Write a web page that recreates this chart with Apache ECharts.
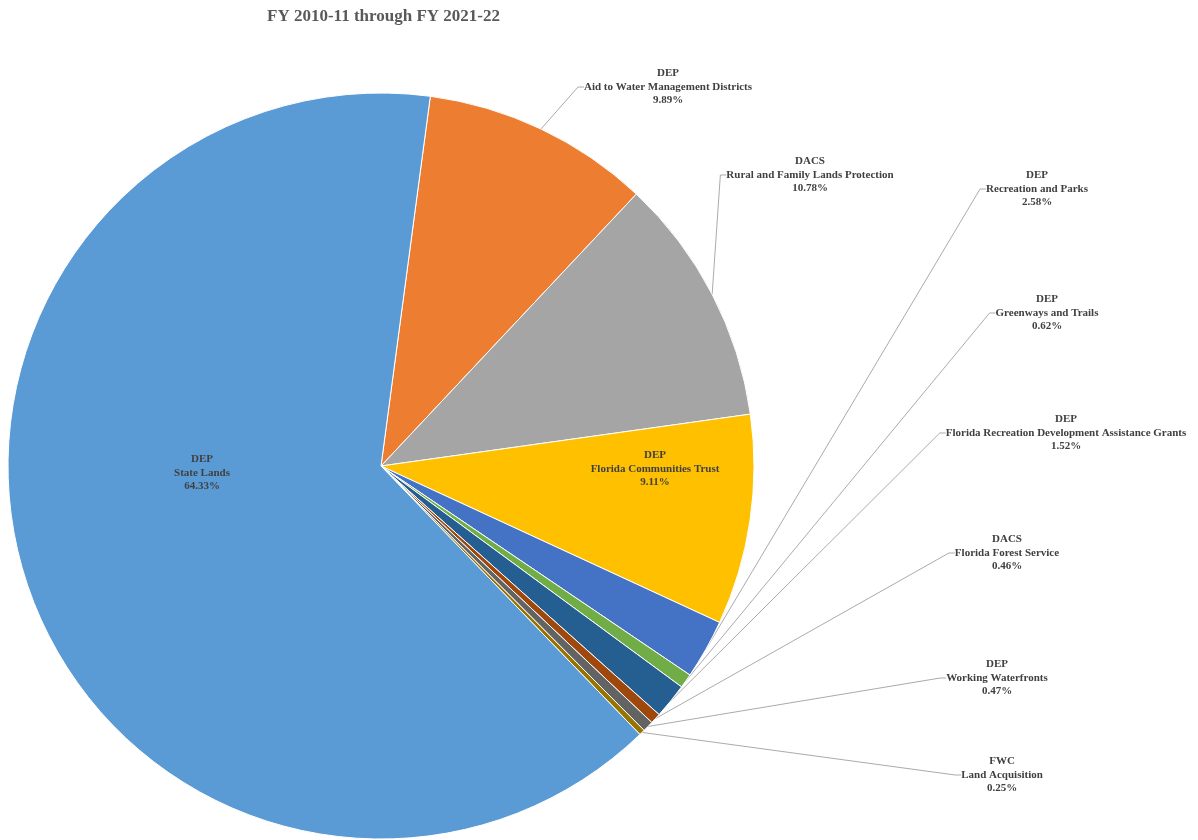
<!DOCTYPE html>
<html>
<head>
<meta charset="utf-8">
<script src="https://cdn.jsdelivr.net/npm/echarts@6/dist/echarts.min.js"></script>
<style>
html,body{margin:0;padding:0;background:#fff;}
#chart{width:1198px;height:840px;}
</style>
</head>
<body>
<div id="chart"></div>
<script>
// Data (clockwise from the top)
var agencies = ['DEP', 'DACS', 'DEP', 'DEP', 'DEP', 'DEP', 'DACS', 'DEP', 'FWC', 'DEP'];
var programs = ['Aid to Water Management Districts', 'Rural and Family Lands Protection', 'Florida Communities Trust',
  'Recreation and Parks', 'Greenways and Trails', 'Florida Recreation Development Assistance Grants',
  'Florida Forest Service', 'Working Waterfronts', 'Land Acquisition', 'State Lands'];
var shares = [9.89, 10.78, 9.11, 2.58, 0.62, 1.52, 0.46, 0.47, 0.25, 64.33];

// Styling / layout (not data)
var colors = ['#ED7D31', '#A5A5A5', '#FFC000', '#4472C4', '#70AD47', '#255E91', '#9E480E', '#636363', '#997300', '#5B9BD5'];
var labelPos = [[668, 87], [810, 175], [655, 469], [1037, 189], [1047, 313], [1066, 433], [1007, 553], [997, 678], [1002, 775], [202, 473]];
var insideIdx = [2, 9];

var data = shares.map(function (v, i) {
  var inside = insideIdx.indexOf(i) >= 0;
  return {
    name: agencies[i] + '\n' + programs[i],
    value: v,
    itemStyle: { color: colors[i] },
    label: { position: inside ? 'inside' : 'outside' },
    labelLine: { show: !inside }
  };
});

var chart = echarts.init(document.getElementById('chart'), null, { renderer: 'canvas' });
chart.setOption({
  animation: false,
  backgroundColor: '#ffffff',
  title: {
    text: 'FY 2010-11 through FY 2021-22',
    left: 262,
    top: 3,
    textStyle: { fontFamily: 'Liberation Serif', fontWeight: 'bold', fontSize: 17, color: '#595959' }
  },
  series: [{
    type: 'pie',
    center: [381, 466],
    radius: [0, 373],
    startAngle: 82.4,
    clockwise: true,
    avoidLabelOverlap: false,
    itemStyle: { borderColor: '#ffffff', borderWidth: 1 },
    label: {
      show: true,
      fontFamily: 'Liberation Serif',
      fontWeight: 'bold',
      fontSize: 11,
      lineHeight: 13.5,
      color: '#404040',
      align: 'center',
      formatter: function (p) { return p.name + '\n' + p.value.toFixed(2) + '%'; }
    },
    labelLine: {
      show: true,
      length: 10,
      length2: 6,
      smooth: false,
      minTurnAngle: 0,
      lineStyle: { color: '#ABABAB', width: 1 }
    },
    labelLayout: function (params) {
      var p = labelPos[params.dataIndex];
      return { x: p[0], y: p[1], align: 'center', verticalAlign: 'middle' };
    },
    emphasis: { disabled: true },
    data: data
  }]
});
</script>
</body>
</html>
